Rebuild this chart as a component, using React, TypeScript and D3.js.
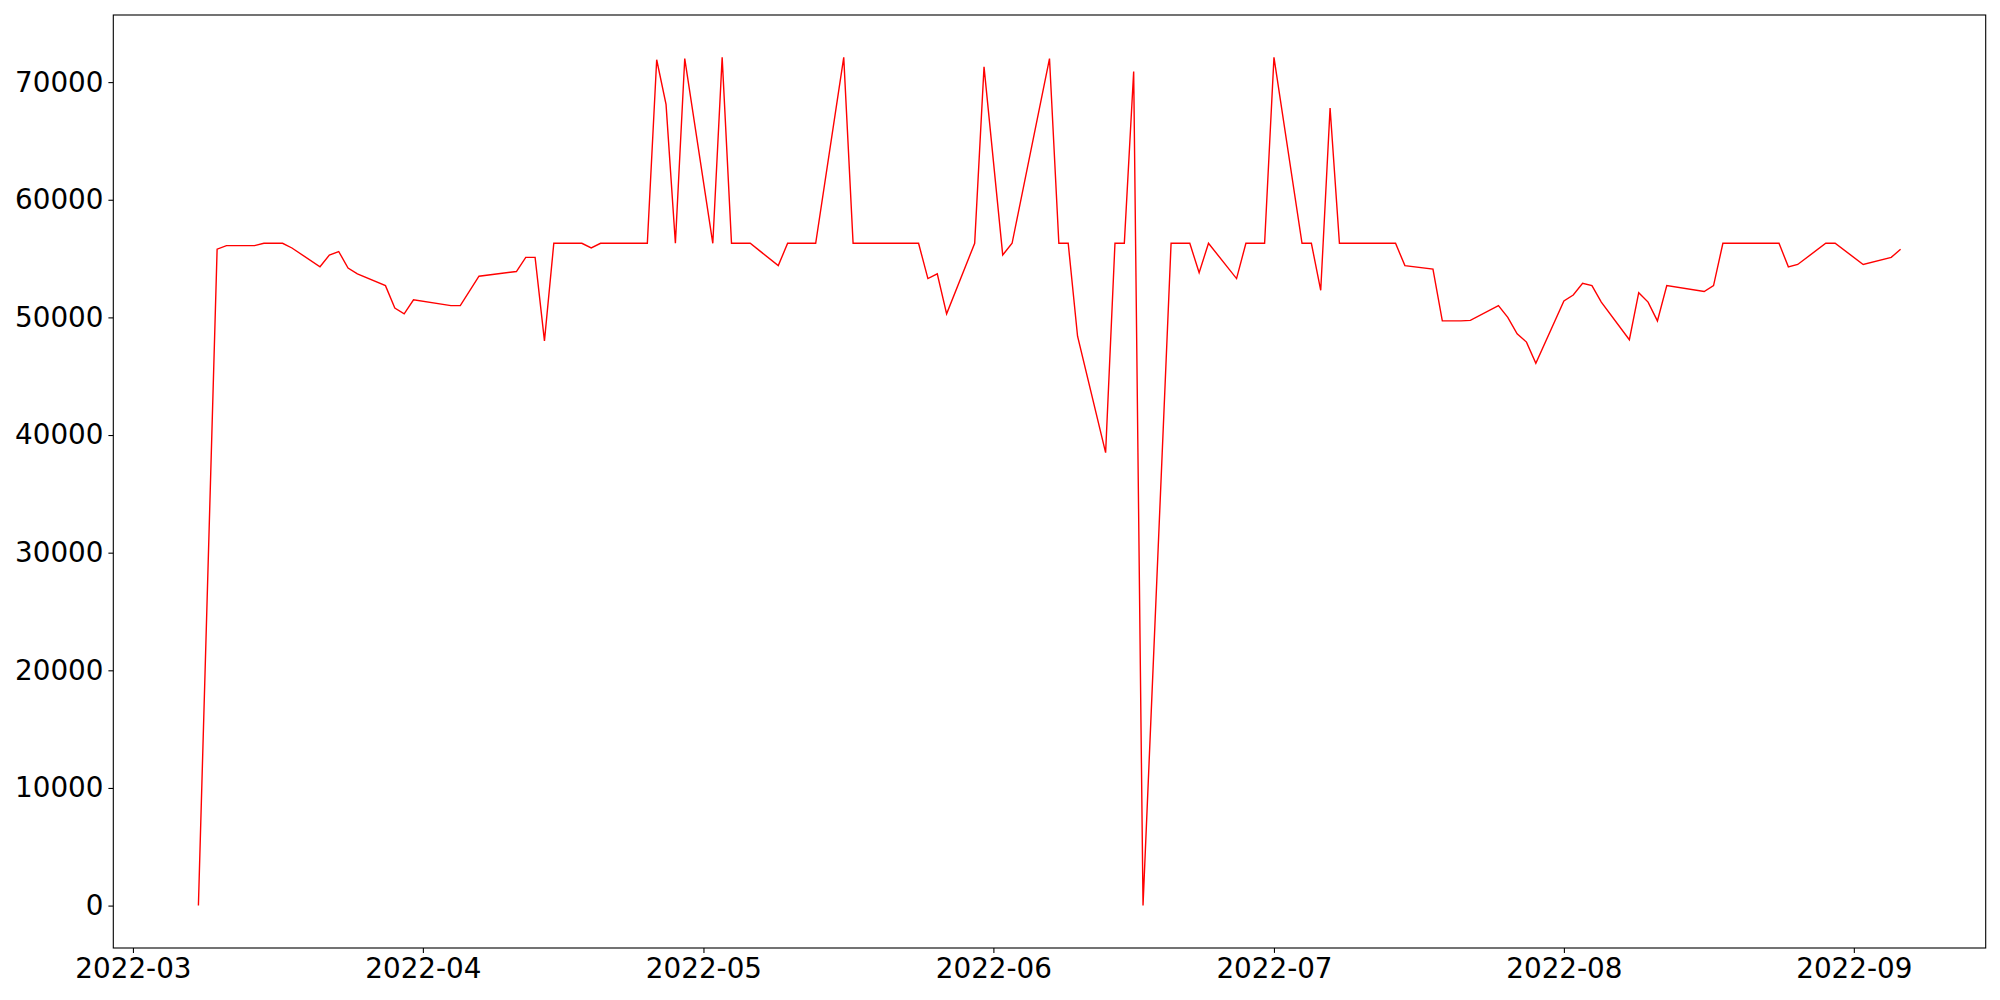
import React, {useEffect, useRef} from 'react'
import * as d3 from 'd3'

// daily readings, gaps where no sample was taken
const dates = [
    '2022-03-08', '2022-03-10', '2022-03-11', '2022-03-14', '2022-03-15', '2022-03-17', '2022-03-18',
    '2022-03-21', '2022-03-22', '2022-03-23', '2022-03-24', '2022-03-25', '2022-03-28', '2022-03-29',
    '2022-03-30', '2022-03-31', '2022-04-04', '2022-04-05', '2022-04-07', '2022-04-11', '2022-04-12',
    '2022-04-13', '2022-04-14', '2022-04-15', '2022-04-18', '2022-04-19', '2022-04-20', '2022-04-25',
    '2022-04-26', '2022-04-27', '2022-04-28', '2022-04-29', '2022-05-02', '2022-05-03', '2022-05-04',
    '2022-05-06', '2022-05-09', '2022-05-10', '2022-05-13', '2022-05-16', '2022-05-17', '2022-05-24',
    '2022-05-25', '2022-05-26', '2022-05-27', '2022-05-30', '2022-05-31', '2022-06-02', '2022-06-03',
    '2022-06-07', '2022-06-08', '2022-06-09', '2022-06-10', '2022-06-13', '2022-06-14', '2022-06-15',
    '2022-06-16', '2022-06-17', '2022-06-20', '2022-06-22', '2022-06-23', '2022-06-24', '2022-06-27',
    '2022-06-28', '2022-06-30', '2022-07-01', '2022-07-04', '2022-07-05', '2022-07-06', '2022-07-07',
    '2022-07-08', '2022-07-14', '2022-07-15', '2022-07-18', '2022-07-19', '2022-07-21', '2022-07-22',
    '2022-07-25', '2022-07-26', '2022-07-27', '2022-07-28', '2022-07-29', '2022-08-01', '2022-08-02',
    '2022-08-03', '2022-08-04', '2022-08-05', '2022-08-08', '2022-08-09', '2022-08-10', '2022-08-11',
    '2022-08-12', '2022-08-16', '2022-08-17', '2022-08-18', '2022-08-24', '2022-08-25', '2022-08-26',
    '2022-08-29', '2022-08-30', '2022-09-02', '2022-09-05', '2022-09-06'
];

const values = [
    0, 55800, 56100, 56100, 56300, 56300, 55900,
    54300, 55300, 55600, 54200, 53700, 52700, 50800,
    50300, 51500, 51000, 51000, 53500, 53900, 55100,
    55100, 48000, 56300, 56300, 55900, 56300, 56300,
    71900, 68100, 56300, 72000, 56300, 72100, 56300,
    56300, 54400, 56300, 56300, 72100, 56300, 56300,
    53300, 53700, 50300, 56300, 71300, 55300, 56300,
    72000, 56300, 56300, 48400, 38500, 56300, 56300,
    70900, 0, 56300, 56300, 53800, 56300, 53300,
    56300, 56300, 72100, 56300, 56300, 52300, 67800,
    56300, 56300, 54400, 54100, 49700, 49700, 49750,
    51000, 50000, 48600, 47900, 46100, 51400, 51900,
    52900, 52700, 51300, 48100, 52100, 51300, 49700,
    52700, 52200, 52700, 56300, 56300, 54300, 54500,
    56300, 56300, 54500, 55100, 55800
];

const width = 2000;
const height = 1000;
const margin = ({top: 15, right: 14.3, bottom: 52, left: 113.3});
const fontSize = 27.8;
const tickLen = 4.9;

export default function App() {
    const ref = useRef(null);

    useEffect(() => {
        const parsed = dates.map(d => d3.utcParse('%Y-%m-%d')(d));
        const data = parsed.map((d, i) => ({date: d, value: values[i]}));

        // matplotlib-style 5% padding around the data
        const [x0, x1] = d3.extent(parsed).map(d => +d);
        const xPad = (x1 - x0) * 0.05;
        const [y0, y1] = d3.extent(values);
        const yPad = (y1 - y0) * 0.05;

        const x = d3.scaleUtc()
            .domain([new Date(x0 - xPad), new Date(x1 + xPad)])
            .range([margin.left, width - margin.right]);

        const y = d3.scaleLinear()
            .domain([y0 - yPad, y1 + yPad])
            .range([height - margin.bottom, margin.top]);

        const svg = d3.select(ref.current);
        svg.selectAll('*').remove();

        const xAxis = g => g
            .attr('transform', `translate(0,${height - margin.bottom})`)
            .call(d3.axisBottom(x)
                .tickValues(d3.utcMonth.range(new Date(x0 - xPad), new Date(x1 + xPad)))
                .tickFormat(d3.utcFormat('%Y-%m'))
                .tickSize(tickLen).tickPadding(4.9).tickSizeOuter(0))
            .call(g => g.select('.domain').remove());

        const yAxis = g => g
            .attr('transform', `translate(${margin.left},0)`)
            .call(d3.axisLeft(y).ticks(8).tickFormat(d3.format('d'))
                .tickSize(tickLen).tickPadding(4.9).tickSizeOuter(0))
            .call(g => g.select('.domain').remove());

        const styleAxis = g => g
            .attr('font-family', '"DejaVu Sans", sans-serif')
            .attr('font-size', fontSize)
            .call(g => g.selectAll('.tick line').attr('stroke', '#000').attr('stroke-width', 1.1))
            .call(g => g.selectAll('.tick text').attr('fill', '#000'));

        svg.append('g').call(xAxis).call(styleAxis);
        svg.append('g').call(yAxis).call(styleAxis);

        const line = d3.line()
            .x(d => x(d.date))
            .y(d => y(d.value));

        svg.append('path')
            .datum(data)
            .attr('fill', 'none')
            .attr('stroke', '#ff0000')
            .attr('stroke-width', 1.4)
            .attr('stroke-linejoin', 'miter')
            .attr('d', line);

        // axes frame
        svg.append('rect')
            .attr('x', margin.left)
            .attr('y', margin.top)
            .attr('width', width - margin.left - margin.right)
            .attr('height', height - margin.top - margin.bottom)
            .attr('fill', 'none')
            .attr('stroke', '#000')
            .attr('stroke-width', 1.1);
    }, []);

    return (
        <svg ref={ref} width={width} height={height}
             style={{position: 'absolute', left: 0, top: 0, background: '#fff'}}/>
    );
}
